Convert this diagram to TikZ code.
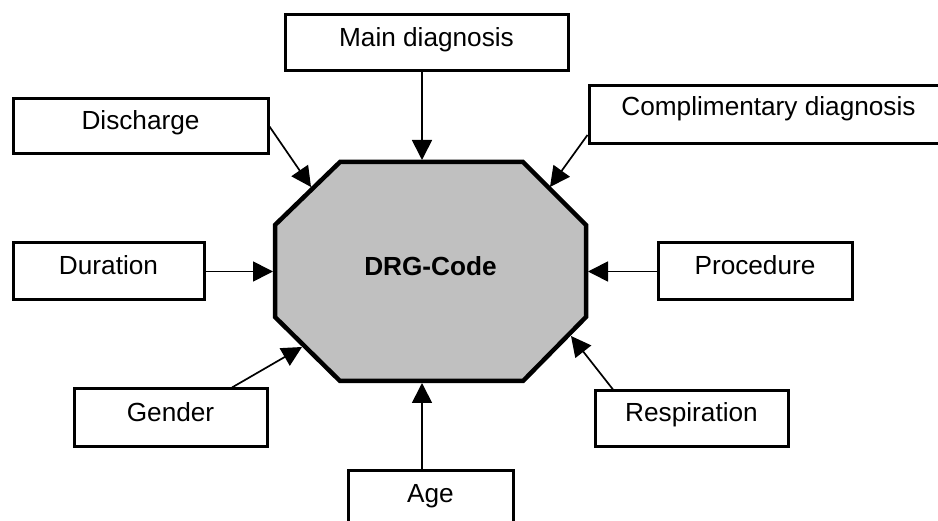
\documentclass[tikz,border=0pt]{standalone}
\usepackage{fontspec}
\setmainfont{Liberation Sans}
\usetikzlibrary{arrows.meta}
\definecolor{codefill}{RGB}{192,192,192}
\begin{document}
\begin{tikzpicture}[x=1pt,y=-1pt,
  labelfont/.style={font=\fontsize{26.2}{30}\selectfont},
  inbox/.style={draw, line width=3pt, rectangle, inner sep=0pt, labelfont,
    text height=18.8pt, text depth=11.8pt},
  feed/.style={line width=1.7pt, -{Triangle[length=20pt,width=20pt]}},
  codeshape/.style={draw, fill=codefill, line width=4.5pt, line join=miter},
]
\useasboundingbox (0,0) rectangle (938,521);

% central code block
\draw[codeshape] (340,162) -- (523,162) -- (586,225) -- (586,317)
  -- (523,381) -- (340,381) -- (275,317) -- (275,225) -- cycle;
\node[labelfont, font=\fontsize{26.2}{30}\selectfont\bfseries, anchor=base]
  (drg) at (430.5,276) {DRG-Code};

% arrow targets on the block outline
\coordinate (tTop)  at (422,160);
\coordinate (tDis)  at (311,187);
\coordinate (tComp) at (550,187);
\coordinate (tDur)  at (273,271.5);
\coordinate (tProc) at (588,271.5);
\coordinate (tGen)  at (302,347);
\coordinate (tResp) at (571,336);
\coordinate (tAge)  at (422,383);

% input boxes
\node[inbox, minimum width=283pt, minimum height=56pt, text depth=10.8pt] (main) at (426.5,43) {Main diagnosis};
\node[inbox, minimum width=255pt, minimum height=55pt] (dis)  at (140.5,126.5) {Discharge};
\node[inbox, minimum width=359pt, minimum height=58pt, text depth=16.8pt] (comp) at (768.5,115) {Complimentary diagnosis};
\node[inbox, minimum width=191pt, minimum height=57pt] (dur)  at (108.5,271.5) {Duration};
\node[inbox, minimum width=194pt, minimum height=57pt] (proc) at (755,271.5) {Procedure};
\node[inbox, minimum width=193pt, minimum height=58pt] (gen)  at (170.5,418) {Gender};
\node[inbox, minimum width=193pt, minimum height=56pt, text depth=12.8pt] (resp) at (691.5,419) {Respiration};
\node[inbox, minimum width=165pt, minimum height=57pt, text depth=13.8pt] (age)  at (430.5,499.5) {Age};

% connectors
\draw[feed] (main.south -| tTop) -- (tTop);
\draw[feed] (dis.east) -- (tDis);
\draw[feed] ([yshift=-20pt]comp.west) -- (tComp);
\draw[feed] (dur.east) -- (tDur);
\draw[feed] (proc.west) -- (tProc);
\draw[feed] ([xshift=61.5pt]gen.north) -- (tGen);
\draw[feed] ([xshift=-78.5pt]resp.north) -- (tResp);
\draw[feed] (age.north -| tAge) -- (tAge);
\end{tikzpicture}
\end{document}
